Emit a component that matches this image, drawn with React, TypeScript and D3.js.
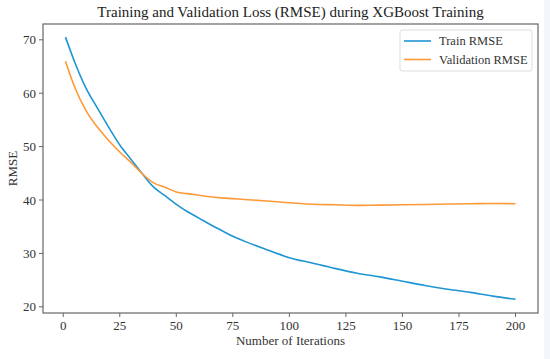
import React from "react";
import * as d3 from "d3";

// values
const iterations = [1, 5, 10, 15, 20, 25, 30, 35, 40, 45, 50, 55, 60, 65, 70, 75, 80, 90, 100, 110, 120, 130, 140, 150, 160, 170, 180, 190, 200];
const trainRmse = [70.5, 65.9, 61.0, 57.3, 53.7, 50.3, 47.6, 44.9, 42.4, 40.8, 39.2, 37.8, 36.6, 35.4, 34.3, 33.2, 32.3, 30.7, 29.2, 28.2, 27.2, 26.3, 25.6, 24.8, 24.0, 23.3, 22.7, 22.0, 21.4];
const validRmse = [66.0, 61.2, 56.8, 53.7, 51.2, 49.0, 47.0, 44.9, 43.2, 42.4, 41.5, 41.2, 40.9, 40.6, 40.4, 40.25, 40.1, 39.8, 39.5, 39.2, 39.1, 39.0, 39.05, 39.1, 39.15, 39.25, 39.3, 39.35, 39.3];
const xTicks = [0, 25, 50, 75, 100, 125, 150, 175, 200];
const yTicks = [20, 30, 40, 50, 60, 70];
const seriesNames = ["Train RMSE", "Validation RMSE"];
const colors = ["#1f96d3", "#fd9a38"];

const W = 550;
const H = 359;
const margin = { top: 24, right: 12, bottom: 46, left: 43 };
const font = "'Liberation Serif', 'Times New Roman', serif";
const axisColor = "#666";

export default function App() {
  const x = d3.scaleLinear().domain([-8.95, 209.95]).range([margin.left, W - margin.right]);
  const y = d3.scaleLinear().domain([18.84, 72.96]).range([H - margin.bottom, margin.top]);

  const line = d3
    .line<number>()
    .x((d, i) => x(iterations[i]))
    .y((d) => y(d))
    .curve(d3.curveMonotoneX);

  const series = [trainRmse, validRmse];
  const x0 = margin.left;
  const x1 = W - margin.right;
  const y0 = H - margin.bottom;
  const y1 = margin.top;

  const legendX = 400;
  const legendY = 30;

  return (
    <svg width={W} height={H} style={{ position: "absolute", left: 0, top: 0, display: "block", background: "#fff" }} fontFamily={font}>
      <rect x={544} y={0} width={6} height={H} fill="#f2f7fb" />
      {/* title */}
      <text x={(x0 + x1) / 2} y={17} textAnchor="middle" fontSize={15} fill="#222">
        Training and Validation Loss (RMSE) during XGBoost Training
      </text>

      {/* lines */}
      {series.map((s, i) => (
        <path key={i} d={line(s) || ""} fill="none" stroke={colors[i]} strokeWidth={1.6} strokeLinejoin="round" />
      ))}

      {/* frame */}
      <rect x={x0} y={y1} width={x1 - x0} height={y0 - y1} fill="none" stroke={axisColor} strokeWidth={1.2} />

      {/* x ticks */}
      {xTicks.map((t) => (
        <g key={t} transform={`translate(${x(t)},${y0})`}>
          <line y1={0} y2={4} stroke={axisColor} strokeWidth={1} />
          <text y={17} textAnchor="middle" fontSize={13} fill="#333">
            {t}
          </text>
        </g>
      ))}

      {/* y ticks */}
      {yTicks.map((t) => (
        <g key={t} transform={`translate(${x0},${y(t)})`}>
          <line x1={0} x2={-4} stroke={axisColor} strokeWidth={1} />
          <text x={-7} dy="0.35em" textAnchor="end" fontSize={13} fill="#333">
            {t}
          </text>
        </g>
      ))}

      {/* axis labels */}
      <text x={(x0 + x1) / 2} y={345} textAnchor="middle" fontSize={13} fill="#333">
        Number of Iterations
      </text>
      <text transform={`translate(17,${(y0 + y1) / 2}) rotate(-90)`} textAnchor="middle" fontSize={13} fill="#333">
        RMSE
      </text>

      {/* legend */}
      <rect x={legendX} y={legendY} width={132} height={41} rx={2} fill="#fff" stroke="#ddd" strokeWidth={1} />
      {seriesNames.map((n, i) => (
        <g key={n} transform={`translate(${legendX},${legendY + 11 + i * 18.5})`}>
          <line x1={4} x2={31} stroke={colors[i]} strokeWidth={1.6} />
          <text x={39} dy="0.35em" fontSize={12.5} fill="#333">
            {n}
          </text>
        </g>
      ))}
    </svg>
  );
}
